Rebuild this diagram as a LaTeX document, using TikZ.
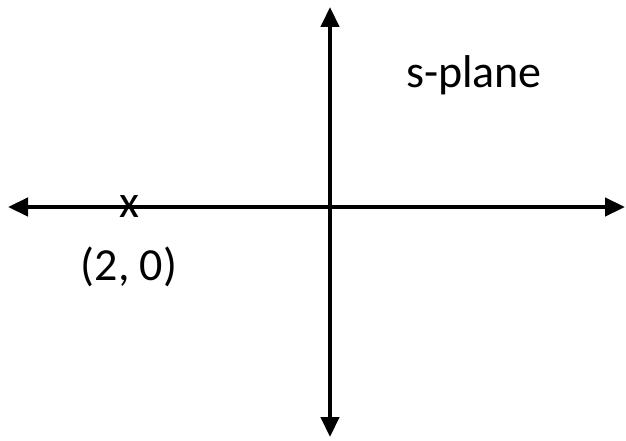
\documentclass[tikz,border=0pt]{standalone}
\usepackage{fontspec}
\setmainfont{Carlito}
\usetikzlibrary{arrows.meta, positioning}
\tikzstyle{axis} = [line width=4.5pt, {Triangle[width=18pt,length=20pt]}-{Triangle[width=18pt,length=20pt]}]
\tikzstyle{label} = [inner sep=0pt, font=\fontsize{46}{50}\selectfont]

\begin{document}
\begin{tikzpicture}[x=1pt, y=-1pt]
        \useasboundingbox (0,0) rectangle (626,441);

        % --- Coordenadas de los ejes ---
        \coordinate (left) at (8,207);
        \coordinate (right) at (625,207);
        \coordinate (top) at (330,7);
        \coordinate (bottom) at (330,437);

        % --- Nodos ---
        \node (pole) [label, anchor=base] at (129.5,217) {x};
        \node (polelabel) [label, anchor=base] at (129,280) {(2, 0)};
        \node (plane) [label, anchor=base] at (474,88) {s-plane};

        % --- Ejes ---
        \draw [axis] (left) -- (right);
        \draw [axis] (bottom) -- (top);

    \end{tikzpicture}
\end{document}
